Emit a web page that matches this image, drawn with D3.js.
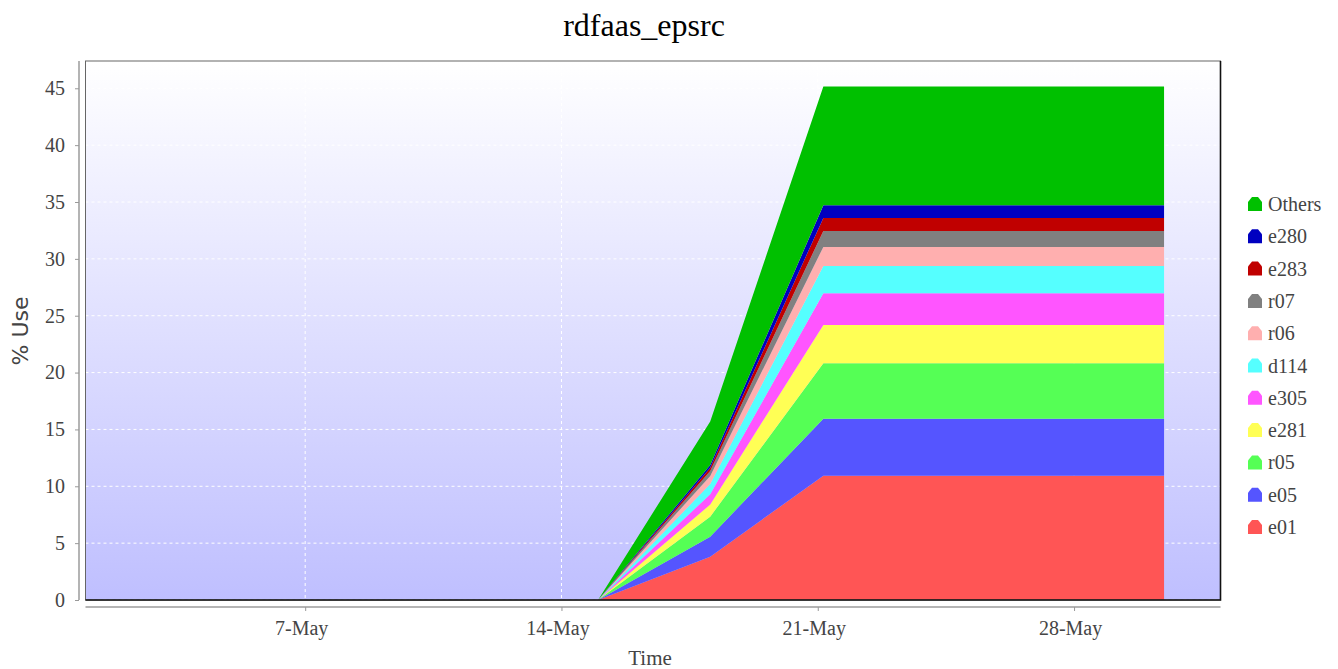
<!DOCTYPE html>
<html>
<head>
<meta charset="utf-8">
<script src="https://cdn.jsdelivr.net/npm/d3@7"></script>
<style>
  body { margin: 0; background: #fff; }
  .chart text { font-family: "Liberation Serif", "Times New Roman", serif; }
</style>
</head>
<body>
<div class="chart"></div>
<script>
// sample times (x) and stacked series values (% use), bottom to top
const times = ["2014-05-15 00:00", "2014-05-18 01:30", "2014-05-21 03:40", "2014-05-30 11:00"];
const seriesNames = ["e01", "e05", "r05", "e281", "e305", "d114", "r06", "r07", "e283", "e280", "Others"];
const e01 = [0, 3.81, 10.93, 10.93];
const e05 = [0, 1.76, 5.02, 5.02];
const r05 = [0, 1.76, 4.87, 4.87];
const e281 = [0, 1.07, 3.37, 3.37];
const e305 = [0, 0.90, 2.78, 2.78];
const d114 = [0, 0.90, 2.40, 2.40];
const r06 = [0, 0.70, 1.68, 1.68];
const r07 = [0, 0.45, 1.40, 1.40];
const e283 = [0, 0.27, 1.15, 1.15];
const e280 = [0, 0.25, 1.11, 1.11];
const others = [0, 3.83, 10.44, 10.44];
const seriesColors = ["#ff5555", "#5555ff", "#55ff55", "#ffff55", "#ff55ff", "#55ffff", "#ffafaf", "#808080", "#c00000", "#0000c0", "#00c000"];
const yTicks = [0, 5, 10, 15, 20, 25, 30, 35, 40, 45];
const xTicks = ["2014-05-07", "2014-05-14", "2014-05-21", "2014-05-28"];

makeSVG()

function makeSVG() {
    const svgwidth = 1338;
    const svgheight = 669;
    const plot = ({left: 85.5, right: 1220.5, top: 61, bottom: 600})

    const parseTime = d3.timeParse("%Y-%m-%d %H:%M")
    const parseDay = d3.timeParse("%Y-%m-%d")
    const values = [e01, e05, r05, e281, e305, d114, r06, r07, e283, e280, others]

    const table = times.map((t, i) => {
        const row = {date: parseTime(t)}
        seriesNames.forEach((name, j) => row[name] = values[j][i])
        return row
    })

    const svg = d3.select(".chart").append("svg")
        .attr("width", svgwidth)
        .attr("height", svgheight)

    const xScale = d3.scaleTime()
        .domain([parseDay("2014-05-01"), parseDay("2014-06-01")])
        .range([plot.left, plot.right])
    const yScale = d3.scaleLinear()
        .domain([0, 47.4])
        .range([plot.bottom, plot.top])
    const colorScale = d3.scaleOrdinal(seriesNames, seriesColors)

    // plot background gradient
    const grad = svg.append("defs").append("linearGradient")
        .attr("id", "bg").attr("x1", 0).attr("y1", 0).attr("x2", 0).attr("y2", 1)
    grad.append("stop").attr("offset", "0%").attr("stop-color", "#ffffff")
    grad.append("stop").attr("offset", "100%").attr("stop-color", "#bfbfff")

    svg.append("rect")
        .attr("x", plot.left).attr("y", plot.top)
        .attr("width", plot.right - plot.left)
        .attr("height", plot.bottom - plot.top)
        .attr("fill", "url(#bg)")

    // gridlines
    svg.append("g")
        .selectAll("line")
        .data(yTicks)
        .enter()
        .append("line")
        .attr("x1", plot.left).attr("x2", plot.right)
        .attr("y1", d => yScale(d)).attr("y2", d => yScale(d))
        .attr("stroke", "#fff")
        .attr("stroke-dasharray", "3,3")
    svg.append("g")
        .selectAll("line")
        .data(xTicks.map(parseDay))
        .enter()
        .append("line")
        .attr("x1", d => xScale(d)).attr("x2", d => xScale(d))
        .attr("y1", plot.top).attr("y2", plot.bottom)
        .attr("stroke", "#fff")
        .attr("stroke-dasharray", "3,3")

    // stacked areas
    const stacked = d3.stack().keys(seriesNames)(table)
    const area = d3.area()
        .x(d => xScale(d.data.date))
        .y0(d => yScale(d[0]))
        .y1(d => yScale(d[1]))

    svg.append("g")
        .selectAll("path")
        .data(stacked)
        .enter()
        .append("path")
        .attr("fill", d => colorScale(d.key))
        .attr("d", area)

    // plot frame
    svg.append("rect")
        .attr("x", plot.left).attr("y", plot.top)
        .attr("width", plot.right - plot.left)
        .attr("height", plot.bottom - plot.top)
        .attr("fill", "none")
        .attr("stroke", "#666")
        .attr("stroke-width", 1)
    svg.append("path")
        .attr("d", `M${plot.left},${plot.bottom}H${plot.right}V${plot.top}`)
        .attr("fill", "none")
        .attr("stroke", "#111")
        .attr("stroke-width", 1.6)

    // axes
    const xAxis = d3.axisBottom()
        .scale(xScale)
        .tickValues(xTicks.map(parseDay))
        .tickFormat(d3.timeFormat("%-d-%b"))
        .tickSizeOuter(0)
        .tickSize(4)
        .tickPadding(10)
    const yAxis = d3.axisLeft()
        .scale(yScale)
        .tickValues(yTicks)
        .tickSizeOuter(0)
        .tickSize(4)
        .tickPadding(10)

    const gx = svg.append("g")
        .attr("class", "axis x-axis")
        .attr("transform", "translate(0, 607)")
        .call(xAxis)
    const gy = svg.append("g")
        .attr("class", "axis y-axis")
        .attr("transform", "translate(79, 0)")
        .call(yAxis)

    for (const g of [gx, gy]) {
        g.select(".domain").attr("stroke", "#b4b4b4").attr("stroke-width", 2)
        g.selectAll(".tick line").attr("stroke", "#999")
        g.selectAll(".tick text")
            .attr("font-size", 20)
            .attr("font-family", "Liberation Serif")
            .attr("fill", "#444")
    }
    gx.selectAll(".tick text").attr("dx", -4)
    gy.select(".domain").attr("d", `M0,${plot.top}V${plot.bottom}`)
    gx.select(".domain").attr("d", `M${plot.left},0H${plot.right}`)

    // title and labels
    svg.append("text")
        .attr("x", 644).attr("y", 36)
        .attr("text-anchor", "middle")
        .attr("font-size", 32)
        .attr("fill", "#000")
        .text("rdfaas_epsrc")

    svg.append("text")
        .attr("x", 650).attr("y", 665)
        .attr("text-anchor", "middle")
        .attr("font-size", 21)
        .attr("fill", "#444")
        .text("Time")

    svg.append("text")
        .attr("transform", "translate(28, 331) rotate(-90)")
        .attr("text-anchor", "middle")
        .style("font-family", "'DejaVu Sans', sans-serif")
        .attr("font-size", 22)
        .attr("fill", "#444")
        .text("% Use")

    // legend, top item is the last series
    const legendNames = seriesNames.slice().reverse()
    const legend = svg.append("g")
        .selectAll("g")
        .data(legendNames)
        .enter()
        .append("g")
        .attr("transform", (d, i) => `translate(1248, ${197 + i * 32.3})`)

    legend.append("path")
        .attr("d", "M0,14V5L4,0H10L14,5V14Z")
        .attr("fill", d => colorScale(d))

    legend.append("text")
        .attr("x", 20)
        .attr("y", 14)
        .attr("font-size", 20)
        .attr("fill", "#444")
        .attr("text-anchor", "start")
        .text(d => d)
}
</script>
</body>
</html>
